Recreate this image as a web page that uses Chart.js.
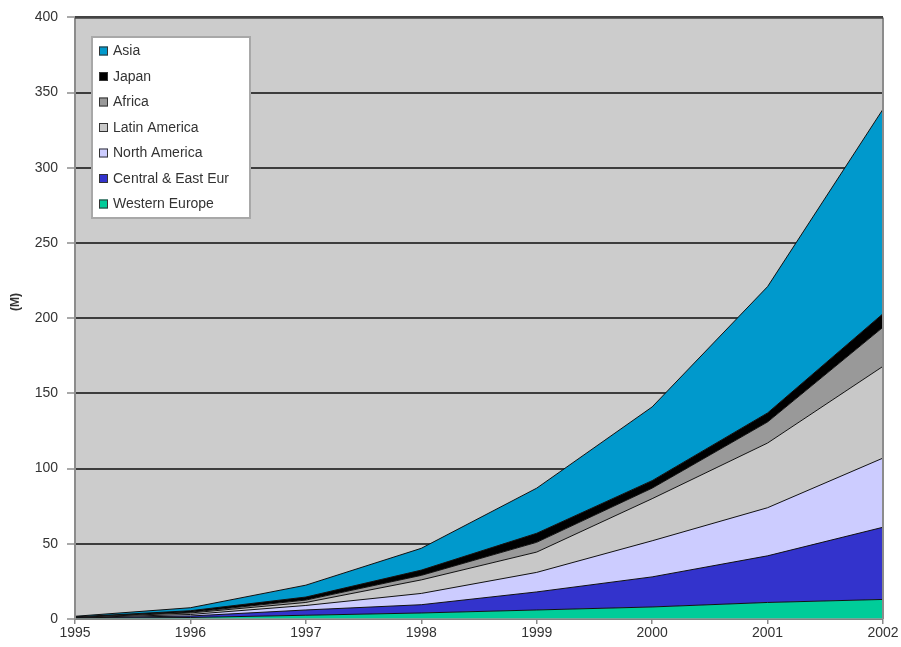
<!DOCTYPE html>
<html>
<head>
<meta charset="utf-8">
<script src="https://cdn.jsdelivr.net/npm/chart.js@4.4.1/dist/chart.umd.min.js"></script>
<style>
  html, body { margin: 0; padding: 0; background: #ffffff; }
  #wrap { width: 901px; height: 647px; position: relative; }
</style>
</head>
<body>
<div id="wrap"><canvas id="c" width="901" height="647"></canvas></div>
<script>
// Years on the horizontal axis
const years = ['1995', '1996', '1997', '1998', '1999', '2000', '2001', '2002'];

// Users per region (millions), stacked bottom to top
const westernEurope = [0.5, 1, 2.5, 4, 6, 8, 11, 13];
const centralEastEur = [0.2, 1, 3.5, 5.5, 12, 20, 31, 48];
const northAmerica = [0.2, 1, 3, 7.5, 13, 24, 32, 46];
const latinAmerica = [0.2, 1, 2, 9, 13.5, 28, 43, 61];
const africa = [0.1, 0.5, 1.6, 3, 6.5, 7, 14, 26];
const japan = [0.2, 1, 2, 3.5, 6, 5, 6, 9];
const asia = [0.4, 2, 7.9, 14.5, 30, 49, 84, 136];

const yTicks = [0, 50, 100, 150, 200, 250, 300, 350, 400];

const FONT = '"Liberation Sans", Arial, sans-serif';

const series = [
  { label: 'Western Europe', data: westernEurope, color: '#00cc99' },
  { label: 'Central & East Eur', data: centralEastEur, color: '#3333cc' },
  { label: 'North America', data: northAmerica, color: '#ccccff' },
  { label: 'Latin America', data: latinAmerica, color: '#c8c8c8' },
  { label: 'Africa', data: africa, color: '#999999' },
  { label: 'Japan', data: japan, color: '#000000' },
  { label: 'Asia', data: asia, color: '#0099cc' }
];

const datasets = series.map((s, i) => ({
  label: s.label,
  data: s.data,
  backgroundColor: s.color,
  borderColor: '#111111',
  borderWidth: 1,
  pointRadius: 0,
  tension: 0,
  fill: i === 0 ? 'origin' : '-1'
}));

// Grey plot background and frame
const plotFrame = {
  id: 'plotFrame',
  beforeDraw(chart) {
    const { ctx, chartArea: a } = chart;
    ctx.save();
    ctx.fillStyle = '#cccccc';
    ctx.fillRect(a.left, a.top, a.right - a.left, a.bottom - a.top);
    ctx.restore();
  },
  afterDatasetsDraw(chart) {
    const { ctx, chartArea: a } = chart;
    ctx.save();
    ctx.strokeStyle = '#8c8c8c';
    ctx.lineWidth = 2;
    ctx.beginPath();
    ctx.moveTo(a.left, a.top);
    ctx.lineTo(a.left, a.bottom);
    ctx.moveTo(a.right, a.top);
    ctx.lineTo(a.right, a.bottom);
    ctx.stroke();
    ctx.strokeStyle = '#9a9a9a';
    ctx.lineWidth = 1.5;
    ctx.beginPath();
    ctx.moveTo(a.left, a.bottom);
    ctx.lineTo(a.right, a.bottom);
    ctx.stroke();
    ctx.strokeStyle = '#444444';
    ctx.lineWidth = 2.5;
    ctx.beginPath();
    ctx.moveTo(a.left, a.top);
    ctx.lineTo(a.right, a.top);
    ctx.stroke();
    ctx.restore();
  }
};

// Boxed legend inside the plot, top series first
const boxLegend = {
  id: 'boxLegend',
  afterDraw(chart) {
    const ctx = chart.ctx;
    const x0 = 92, y0 = 37, w = 158, h = 181;
    ctx.save();
    ctx.fillStyle = '#ffffff';
    ctx.fillRect(x0, y0, w, h);
    ctx.strokeStyle = '#a8a8a8';
    ctx.lineWidth = 2;
    ctx.strokeRect(x0, y0, w, h);
    ctx.font = '14px ' + FONT;
    ctx.textBaseline = 'middle';
    const items = chart.data.datasets.slice().reverse();
    items.forEach((ds, i) => {
      const cy = 51 + i * 25.5;
      ctx.fillStyle = ds.backgroundColor;
      ctx.fillRect(99, cy - 4.5, 9, 9);
      ctx.strokeStyle = '#333333';
      ctx.lineWidth = 1;
      ctx.strokeRect(99.5, cy - 4, 8, 8);
      ctx.fillStyle = '#333333';
      ctx.fillText(ds.label, 113, cy + 0.5);
    });
    ctx.restore();
  }
};

// Rotated unit label beside the value axis
const unitLabel = {
  id: 'unitLabel',
  afterDraw(chart) {
    const ctx = chart.ctx;
    ctx.save();
    ctx.translate(16, 302);
    ctx.rotate(-Math.PI / 2);
    ctx.font = 'bold 12px ' + FONT;
    ctx.fillStyle = '#333333';
    ctx.textAlign = 'center';
    ctx.textBaseline = 'middle';
    ctx.fillText('(M)', 0, 0);
    ctx.restore();
  }
};

new Chart(document.getElementById('c'), {
  type: 'line',
  data: { labels: years, datasets },
  plugins: [plotFrame, boxLegend, unitLabel],
  options: {
    responsive: false,
    animation: false,
    layout: { padding: { left: 0, right: 18, top: 16, bottom: 0 } },
    plugins: {
      legend: { display: false },
      tooltip: { enabled: false },
      title: { display: false }
    },
    elements: { line: { borderJoinStyle: 'round' } },
    scales: {
      x: {
        offset: false,
        grid: { drawOnChartArea: false, drawTicks: true, tickLength: 5, color: '#8c8c8c', lineWidth: 1.5 },
        border: { display: false },
        ticks: {
          color: '#333333',
          font: { family: FONT, size: 14 },
          padding: 1,
          maxRotation: 0,
          autoSkip: false
        },
        afterFit(s) { s.height = 28; }
      },
      y: {
        stacked: true,
        min: 0,
        max: 400,
        afterBuildTicks(s) { s.ticks = yTicks.map(v => ({ value: v })); },
        grid: {
          color: '#3c3c3c',
          lineWidth: 2,
          tickLength: 8,
          tickColor: '#8c8c8c',
          tickWidth: 1.5
        },
        border: { display: false },
        ticks: {
          color: '#333333',
          font: { family: FONT, size: 14 },
          padding: 9
        },
        afterFit(s) { s.width = 75; }
      }
    }
  }
});
</script>
</body>
</html>
